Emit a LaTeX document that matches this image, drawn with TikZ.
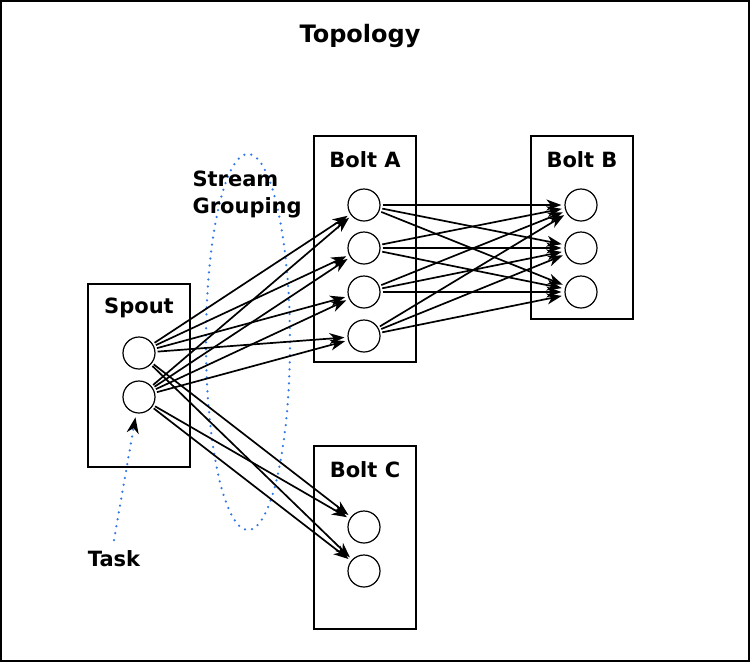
\documentclass[tikz,border=0pt]{standalone}
\usepackage{fontspec}
\setmainfont{DejaVu Sans}
\usetikzlibrary{arrows.meta}
\definecolor{grpblue}{RGB}{50,120,230}
\tikzset{
  task/.style={draw, circle, minimum size=32pt, inner sep=0pt, line width=1.2pt},
  comp/.style={draw, rectangle, minimum width=102pt, line width=1.8pt},
  lbl/.style={font=\bfseries\fontsize{21}{27}\selectfont},
  flow/.style={->, line width=1.7pt, shorten <=2pt, shorten >=3pt},
  grp/.style={grpblue, line width=2.5pt, dash pattern=on 0pt off 7pt, line cap=round},
}
\begin{document}
\begin{tikzpicture}[x=1pt, y=-1pt, >={Stealth[length=15pt,width=11pt,inset=4.5pt]}]
\useasboundingbox (0,0) rectangle (750,662);
\draw[line width=2.5pt] (1,1) rectangle (749,661);
\node[lbl, font=\bfseries\fontsize{24}{28}\selectfont] (title) at (360,36) {Topology};
% grouping
\draw[grp] (248,342) ellipse [x radius=42pt, y radius=188pt];
\node[lbl, anchor=west, align=left] (grouping) at (189,194) {Stream\\Grouping};
% components
\node[comp, minimum height=183pt] (spout) at (139,375.5) {};
\node[comp, minimum height=226pt] (boltA) at (365,249) {};
\node[comp, minimum height=183pt] (boltB) at (582,227.5) {};
\node[comp, minimum height=183pt] (boltC) at (365,537.5) {};
\node[lbl] at (139,308) {Spout};
\node[lbl] at (365,160) {Bolt A};
\node[lbl] at (582,160) {Bolt B};
\node[lbl] at (365,470) {Bolt C};
% tasks
\node[task] (sp1) at (139,353) {};
\node[task] (sp2) at (139,397) {};
\foreach \i/\y in {1/205,2/248,3/292,4/336}
  \node[task] (a\i) at (364,\y) {};
\foreach \i/\y in {1/205,2/248,3/292}
  \node[task] (b\i) at (581,\y) {};
\node[task] (c1) at (364,527) {};
\node[task] (c2) at (364,571) {};
% streams
\foreach \s in {1,2}{
  \foreach \a in {1,...,4} \draw[flow] (sp\s) -- (a\a);
  \foreach \c in {1,2} \draw[flow] (sp\s) -- (c\c);
}
\foreach \a in {1,...,4}
  \foreach \b in {1,2,3} \draw[flow] (a\a) -- (b\b);
% task pointer
\node[lbl] (tasklbl) at (114,559) {Task};
\coordinate (taskend) at (114,540);
\draw[grp, -{Stealth[black,length=16pt,width=12pt,inset=5pt]}, shorten >=4pt] (taskend) -- (sp2);
\end{tikzpicture}
\end{document}
